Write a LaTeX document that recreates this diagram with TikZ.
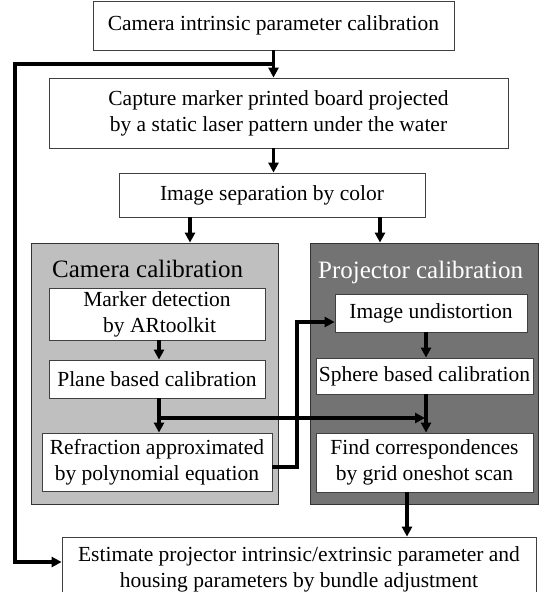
\documentclass[tikz,border=0pt]{standalone}
\usepackage{fontspec}
\setmainfont{Liberation Serif}
\usetikzlibrary{arrows.meta}
\tikzset{
  box/.style={draw=black!75, line width=0.8pt, fill=white, inner sep=0pt, align=center,
    font=\fontsize{21.5}{26}\selectfont},
  panel/.style={draw=black!80, line width=0.8pt, inner sep=0pt},
  ttl/.style={anchor=base west, inner sep=0pt, font=\fontsize{25}{30}\selectfont},
  arr/.style={line width=3.4pt, -{Triangle[length=10pt,width=10pt]}},
  ln/.style={line width=3.4pt}
}
\begin{document}
\begin{tikzpicture}[x=1pt,y=-1pt]
\useasboundingbox (0,0) rectangle (542,592);
\clip (0,0) rectangle (542,592);
% panels
\node[panel, fill=black!25, minimum width=247pt, minimum height=261pt] (lp) at (154.5,373.5) {};
\node[panel, fill=black!55, minimum width=228pt, minimum height=261pt] (rp) at (424,373.5) {};
\node[ttl] (lt) at (52,277) {Camera calibration};
\node[ttl, text=white] (rt) at (318,278) {Projector calibration};
% boxes
\node[box, minimum width=361pt, minimum height=49pt] (b1) at (273.5,25.5) {Camera intrinsic parameter calibration};
\node[box, minimum width=459pt, minimum height=70pt] (b2) at (278.5,113) {Capture marker printed board projected\\by a static laser pattern under the water};
\node[box, minimum width=306pt, minimum height=44pt] (b3) at (272,195) {Image separation by color};
\node[box, minimum width=216pt, minimum height=52pt] (mk) at (157,314) {Marker detection\\\ by ARtoolkit};
\node[box, minimum width=216pt, minimum height=38pt] (pl) at (157,379) {Plane based calibration};
\node[box, minimum width=230pt, minimum height=58pt] (rf) at (157,462) {Refraction approximated\\by polynomial equation};
\node[box, minimum width=192pt, minimum height=38pt] (ud) at (431,313) {Image undistortion};
\node[box, minimum width=217pt, minimum height=36pt] (sp) at (424.5,376) {Sphere based calibration};
\node[box, minimum width=217pt, minimum height=59pt] (fc) at (424.5,462.5) {Find correspondences\\by grid oneshot scan};
\node[box, minimum width=474pt, minimum height=64pt] (bt) at (299,569) {Estimate projector intrinsic/extrinsic parameter and\\housing parameters by bundle adjustment};
% helper coordinates
\coordinate (x190) at (190,0);
\coordinate (x380) at (380,0);
\coordinate (x159) at (159,0);
\coordinate (x426) at (426,0);
\coordinate (x407) at (407,0);
\coordinate (j) at (273.5,64);
\coordinate (lc) at (15,64);
\coordinate (e) at (15,562);
\coordinate (h1) at (159,418);
\coordinate (h2) at (425,418);
\coordinate (k) at (297,322);
% connectors
\draw[arr] (b1.south) -- (b1.south |- b2.north);
\draw[arr] (j) -- (lc) -- (e) -- (e -| bt.west);
\draw[arr] (b2.south -| b1.south) -- (b3.north -| b1.south);
\draw[arr] (x190 |- b3.south) -- (x190 |- lp.north);
\draw[arr] (x380 |- b3.south) -- (x380 |- rp.north);
\draw[arr] (x159 |- mk.south) -- (x159 |- pl.north);
\draw[arr] (x159 |- pl.south) -- (x159 |- rf.north);
\draw[arr] (h1) -- (h2);
\draw[arr] (x426 |- ud.south) -- (x426 |- sp.north);
\draw[arr] (x426 |- sp.south) -- (x426 |- fc.north);
\draw[arr] ([yshift=-5pt]rf.east) -| (k) -- (k -| ud.west);
\draw[arr] (x407 |- fc.south) -- (x407 |- bt.north);
\end{tikzpicture}
\end{document}
